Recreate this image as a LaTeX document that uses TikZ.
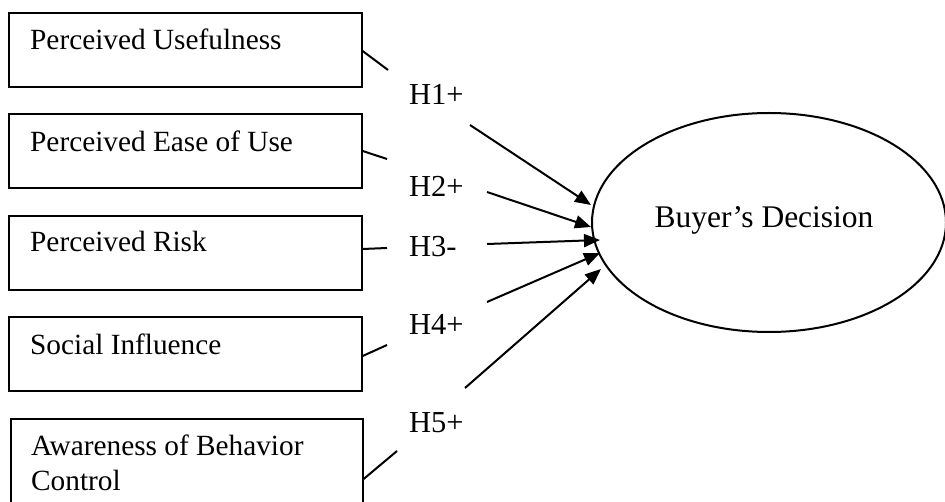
\documentclass[tikz,border=0pt]{standalone}
\usepackage{fontspec}
\setmainfont{Liberation Serif}
\usetikzlibrary{arrows.meta,shapes.geometric}
\tikzset{
  box/.style={draw, line width=1.3pt, rectangle, inner sep=0pt, minimum width=353pt},
  boxtext/.style={anchor=base west, inner sep=0pt, font=\fontsize{29.3}{35}\selectfont},
  hlabel/.style={anchor=base west, inner sep=0pt, font=\fontsize{30.5}{36}\selectfont},
  stub/.style={line width=2pt},
  hyp/.style={line width=2pt, -{Triangle[length=16pt,width=13pt]}},
}
\begin{document}
\begin{tikzpicture}[x=1pt,y=-1pt]
\useasboundingbox (0,0) rectangle (945,502);
\clip (0,0) rectangle (945,502);
% boxes
\node[box, minimum height=74pt] (b1) at (185.5,50) {};
\node[box, minimum height=74pt] (b2) at (185.5,151) {};
\node[box, minimum height=74pt] (b3) at (185.5,253) {};
\node[box, minimum height=74pt] (b4) at (185.5,354) {};
\node[box, minimum height=101pt, minimum width=352pt] (b5) at (187,469.5) {};
% box texts
\node[boxtext] (t1) at (30,50) {Perceived Usefulness};
\node[boxtext] (t2) at (30,152) {Perceived Ease of Use};
\node[boxtext] (t3) at (30,252) {Perceived Risk};
\node[boxtext] (t4) at (30,355) {Social Influence};
\node[boxtext] (t5) at (31,455) {Awareness of Behavior};
\node[boxtext] (t5b) at (31,490) {Control};
% ellipse
\node[draw, ellipse, line width=2pt, minimum width=354pt, minimum height=219pt, inner sep=0pt] (bd) at (769,222.5) {};
\node[anchor=base, inner sep=0pt, font=\fontsize{31.5}{37}\selectfont] (bdt) at (764,228) {Buyer’s Decision};
% hypothesis labels
\node[hlabel] (h1) at (409,105) {H1+};
\node[hlabel] (h2) at (409,197) {H2+};
\node[hlabel] (h3) at (409,257) {H3-};
\node[hlabel] (h4) at (409,335) {H4+};
\node[hlabel] (h5) at (409,432) {H5+};
% connector coordinates
\coordinate (s1) at (388,70);
\coordinate (s2) at (387,159);
\coordinate (s3) at (387,248);
\coordinate (s4) at (387,345);
\coordinate (s5) at (397,451);
\coordinate (a1) at (470,125);
\coordinate (a2) at (487,192);
\coordinate (a3) at (487,244);
\coordinate (a4) at (487,302);
\coordinate (a5) at (465,388);
\coordinate (e1) at (591,205);
\coordinate (e2) at (591,227);
\coordinate (e3) at (600,240);
\coordinate (e4) at (600,253);
\coordinate (e5) at (601,269);
% stubs
\draw[stub] ([yshift=-1pt]b1.east) -- (s1);
\draw[stub] (b2.east) -- (s2);
\draw[stub] ([yshift=4pt]b3.east) -- (s3);
\draw[stub] ([yshift=-2pt]b4.east) -- (s4);
\draw[stub] ([yshift=-9.5pt]b5.east) -- (s5);
% arrows
\draw[hyp] (a1) -- (e1);
\draw[hyp] (a2) -- (e2);
\draw[hyp] (a3) -- (e3);
\draw[hyp] (a4) -- (e4);
\draw[hyp] (a5) -- (e5);
\end{tikzpicture}
\end{document}
